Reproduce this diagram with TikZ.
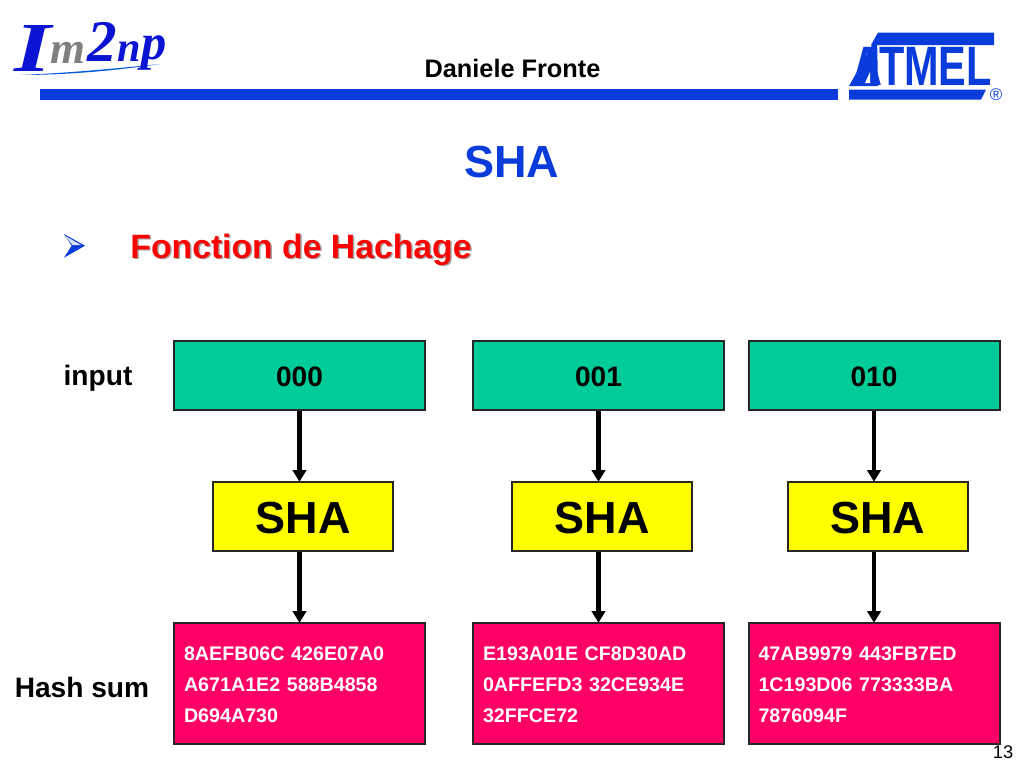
\documentclass[tikz,border=0pt]{standalone}
\usepackage{fontspec}
\setmainfont{Liberation Sans}
\newfontfamily\logofont{Liberation Serif}
\usepackage{tikz}
\usetikzlibrary{arrows.meta, positioning}
\definecolor{slideblue}{HTML}{0A3CDC}
\definecolor{inputgreen}{HTML}{00CC99}
\definecolor{shayellow}{HTML}{FFFF00}
\definecolor{hashpink}{HTML}{FF0066}
\definecolor{logoblue}{HTML}{0A14D2}

\begin{document}
\begin{tikzpicture}[
    x=0.25mm, y=-0.25mm,
    inputbox/.style={rectangle, draw=black!85, line width=0.5mm, fill=inputgreen, minimum width=62.75mm, minimum height=17.25mm, text height=16pt, font=\bfseries\fontsize{20}{24}\selectfont},
    shabox/.style={rectangle, draw=black!85, line width=0.5mm, fill=shayellow, minimum width=45mm, minimum height=17.25mm, text height=24.5pt, font=\bfseries\fontsize{32}{38}\selectfont},
    hashbox/.style={rectangle, draw=black!85, line width=0.5mm, fill=hashpink, text=white, inner xsep=2.5mm, text width=57.75mm, text height=11.5pt, align=left, minimum height=30.25mm, font=\bfseries\fontsize{14}{22}\selectfont},
    sidelabel/.style={font=\bfseries\fontsize{20}{24}\selectfont},
    flow/.style={line width=1.15mm, black, -{Triangle[length=2.9mm, width=3.3mm]}, shorten >=-0.2mm},
    logoletter/.style={inner sep=0pt, font=\logofont\itshape\bfseries\fontsize{#1}{#1}\selectfont},
]
    \useasboundingbox (0,0) rectangle (1024,768);
    % Header
    \fill[slideblue] (40,89) rectangle (838,100);
    \node[font=\bfseries\fontsize{18}{22}\selectfont] (author) at (512.5,68) {Daniele Fronte};
    % Im2np logo
    \fill[logoblue!70!cyan] (20,75) .. controls (70,73) and (120,68) .. (160,64) .. controls (120,70) and (70,75) .. (20,75);
    \node[logoletter=50, text=logoblue, xscale=1.35] (logoI) at (33,48) {I};
    \node[logoletter=32, text=gray] (logoM) at (68,53) {m};
    \node[logoletter=42, text=logoblue] (logoTwo) at (102,42) {2};
    \node[logoletter=30, text=logoblue] (logoN) at (129,52) {n};
    \node[logoletter=36, text=logoblue] (logoP) at (154,53) {p};
    % Atmel logo
    \fill[slideblue] (878,32.5) -- (994,32.5) -- (994,45) -- (871,45) -- cycle;
    \fill[slideblue] (877,36) -- (849,86) -- (878,86) -- cycle;
    \fill[slideblue] (849,89.5) -- (986,89.5) -- (981,99.5) -- (849,99.5) -- cycle;
    \node[inner sep=0pt, text=slideblue, font=\bfseries\fontsize{39.5}{40}\selectfont, xscale=0.746] (atmel) at (922,66.5) {ATMEL};
    \fill[white] (865,83) -- (870,72) -- (870,83) -- cycle;
    \node[inner sep=0pt, text=slideblue, font=\fontsize{12}{12}\selectfont] (regmark) at (996,94.5) {®};
    % Title and bullet
    \node[text=slideblue, font=\bfseries\fontsize{32}{38}\selectfont] (title) at (511.5,162) {SHA};
    \fill[slideblue] (64,234) -- (85,245.7) -- (64,257.7) -- (71.7,245.7) -- cycle;
    \fill[white!85!slideblue] (65.5,236) -- (81,245) -- (72.5,245) -- cycle;
    \node[text=black!35, font=\bfseries\fontsize{24}{28}\selectfont] (subshadow) at (302.5,251) {Fonction de Hachage};
    \node[text=red, font=\bfseries\fontsize{24}{28}\selectfont] (subtitle) at (301,249.5) {Fonction de Hachage};
    % Side labels
    \node[sidelabel] (inputlabel) at (98,378) {input};
    \node[sidelabel] (hashlabel) at (82,687.5) {Hash sum};
    % Columns
    \foreach \i/\xin/\xsha/\val/\hash in {
        1/299.5/303/000/{8AEFB06C 426E07A0\\A671A1E2 588B4858\\D694A730},
        2/598.5/602/001/{E193A01E CF8D30AD\\0AFFEFD3 32CE934E\\32FFCE72},
        3/874/877.5/010/{47AB9979 443FB7ED\\1C193D06 773333BA\\7876094F}} {
        \node[inputbox] (in\i) at (\xin,375.5) {\val};
        \node[shabox] (sha\i) at (\xsha,516.5) {SHA};
        \node[hashbox] (hash\i) at (\xin,683.5) {\hash};
        \draw[flow] (in\i.south) -- (in\i.south |- sha\i.north);
        \draw[flow] (hash\i.north |- sha\i.south) -- (hash\i.north);
    }
    % Page number
    \node[font=\fontsize{13}{16}\selectfont] (pagenum) at (1003,752) {13};
\end{tikzpicture}
\end{document}
